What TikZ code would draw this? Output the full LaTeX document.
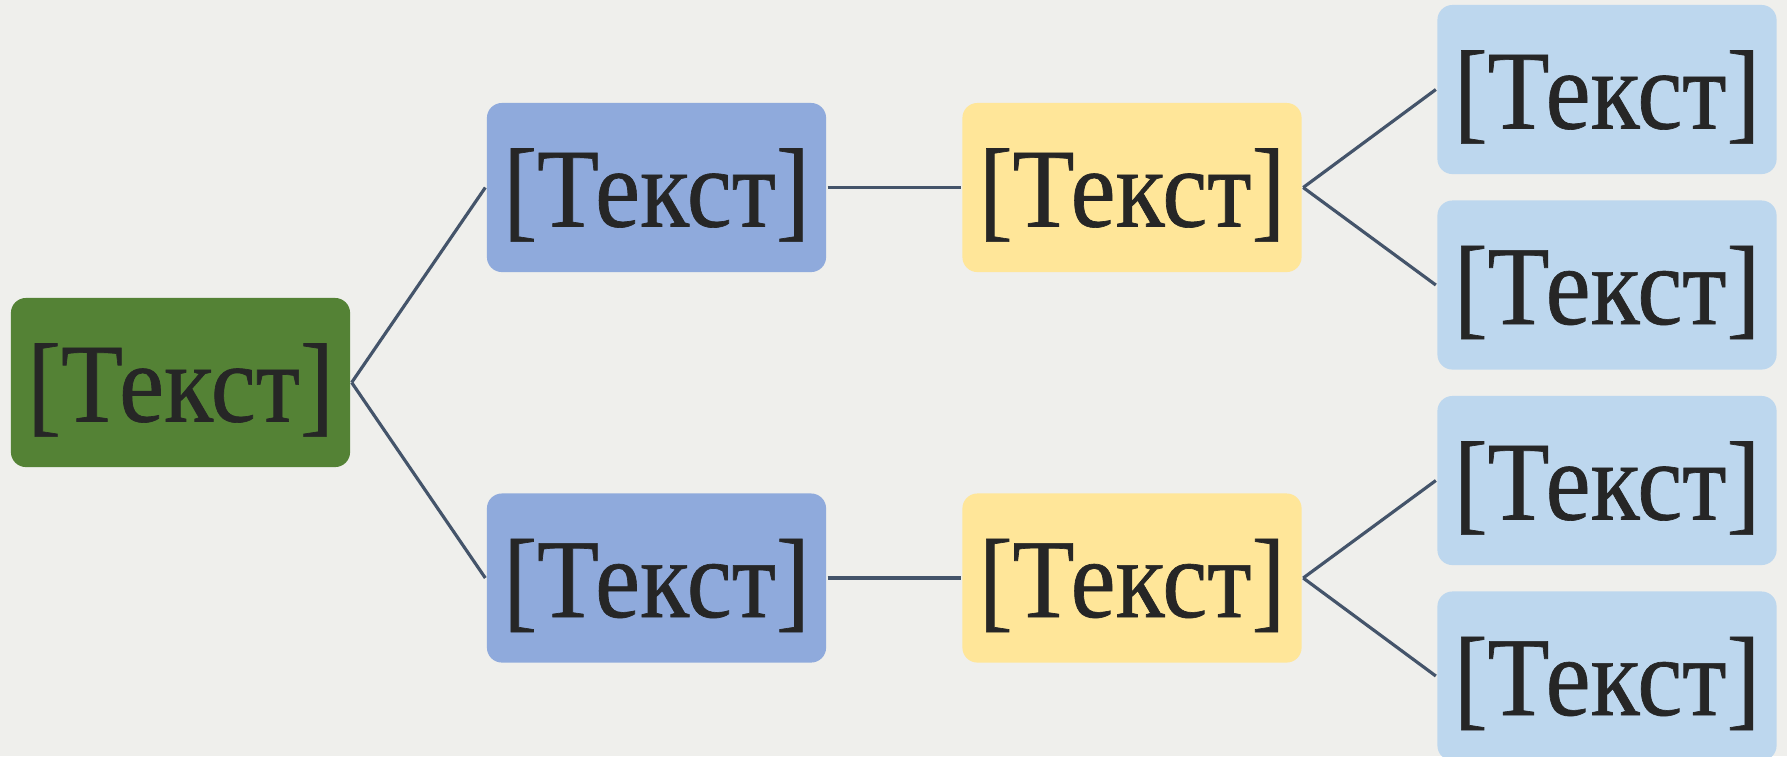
\documentclass[tikz,border=0pt]{standalone}
\usepackage{fontspec}
\setmainfont[FakeStretch=0.9, FakeBold=0.6]{Liberation Serif}
\usetikzlibrary{positioning}

\definecolor{paper}{RGB}{239,239,236}
\definecolor{rootgreen}{RGB}{84,130,53}
\definecolor{midblue}{RGB}{143,170,220}
\definecolor{softyellow}{RGB}{255,230,153}
\definecolor{paleblue}{RGB}{189,215,238}
\definecolor{linkgray}{RGB}{68,84,106}
\definecolor{inkgray}{RGB}{38,38,38}

\begin{document}
\begin{tikzpicture}[x=0.01cm, y=-0.01cm, draw=linkgray, line width=0.9pt]
    \tikzstyle{box}=[rounded corners=0.15cm, minimum width=3.39cm, minimum height=1.69cm, inner sep=0pt, text height=1.01cm, text depth=0.23cm, text=inkgray, font=\fontsize{32}{32}\selectfont]
    \tikzstyle{root box}=[box, fill=rootgreen];
    \tikzstyle{mid box}=[box, fill=midblue];
    \tikzstyle{sub box}=[box, fill=softyellow];
    \tikzstyle{leaf box}=[box, fill=paleblue];

    % Background
    \fill[paper] (0,0) rectangle (1787,756);
    \useasboundingbox (0,0) rectangle (1787,756);

    % Draw the root node
    \node[root box] (R) at (180.5,382.5) {[Текст]};

    % Draw the middle columns
    \foreach \name / \y in {1/187.5,2/578}
    {
        \node[mid box] (M-\name) at (656.5,\y) {[Текст]};
        \node[sub box] (S-\name) at (1132,\y) {[Текст]};
    }

    % Draw the leaf nodes
    \foreach \name / \y in {1/89.5,2/285,3/480.5,4/676}
        \node[leaf box] (L-\name) at (1607,\y) {[Текст]};

    % Connect everything
    \foreach \dest in {1,2}
    {
        \draw (R.east) -- (M-\dest.west);
        \draw (M-\dest.east) -- (S-\dest.west);
    }
    \draw (S-1.east) -- (L-1.west);
    \draw (S-1.east) -- (L-2.west);
    \draw (S-2.east) -- (L-3.west);
    \draw (S-2.east) -- (L-4.west);
\end{tikzpicture}
\end{document}
